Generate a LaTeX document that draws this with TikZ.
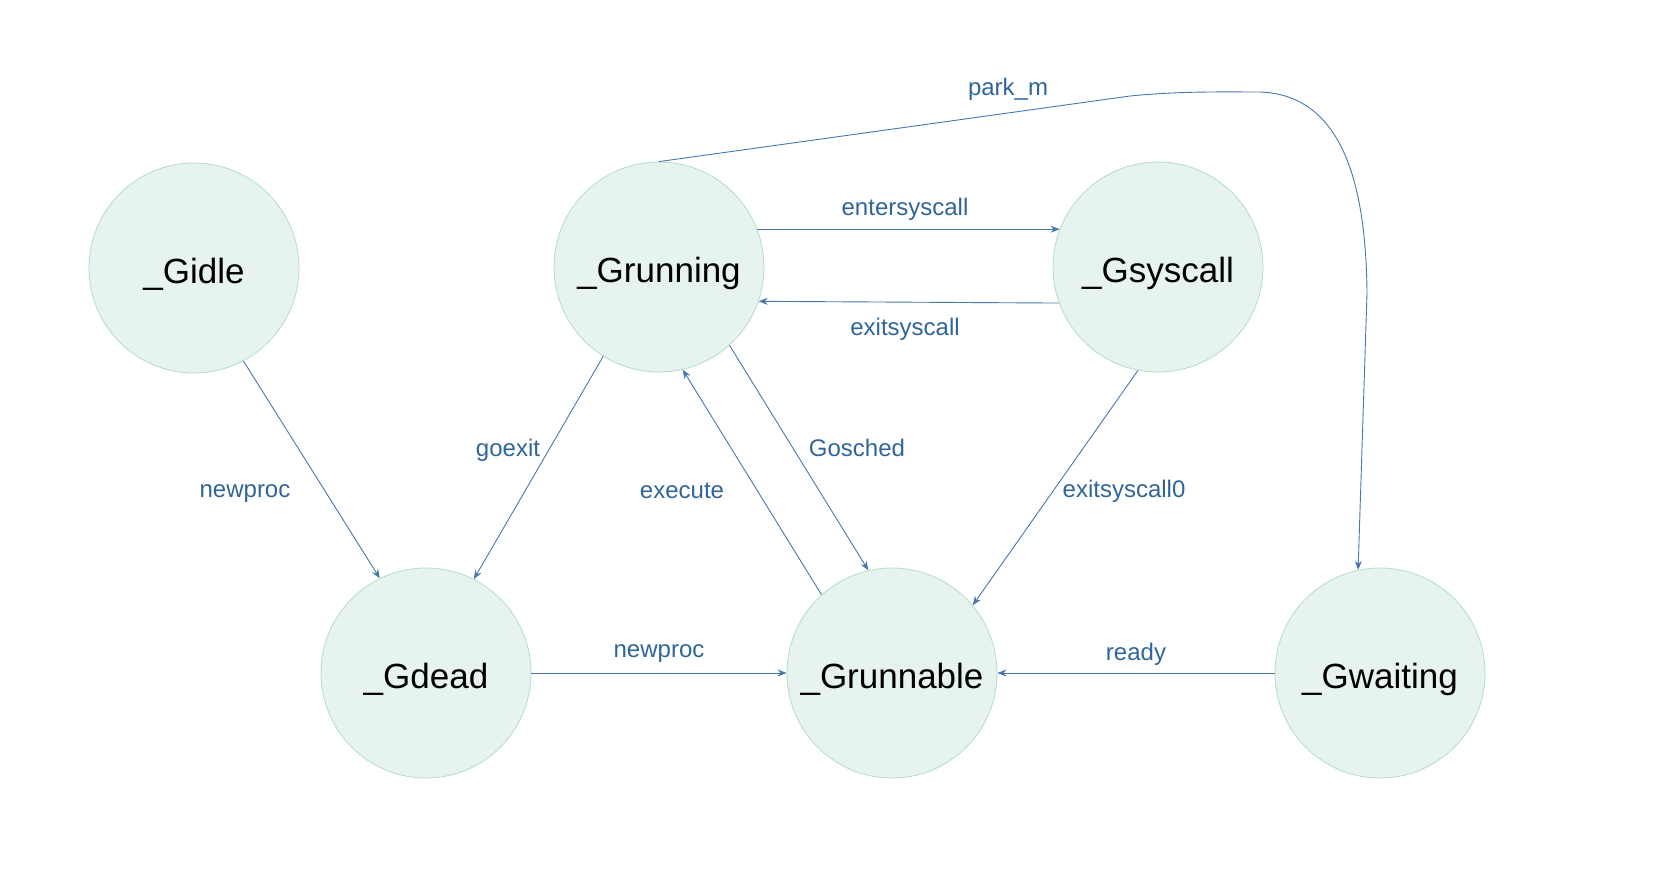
\documentclass[tikz,border=0pt]{standalone}
\usepackage{fontspec}
\setmainfont{Liberation Sans}
\usetikzlibrary{arrows.meta}
\definecolor{stfill}{HTML}{E7F3EE}
\definecolor{stdraw}{HTML}{B3DCCD}
\definecolor{edgec}{HTML}{4877AD}
\definecolor{labc}{HTML}{30659A}
\tikzset{
  state/.style={circle, draw=stdraw, fill=stfill, line width=0.8pt, minimum size=210pt, inner sep=0pt, font=\fontsize{35}{40}\selectfont, text=black},
  stxt/.style={font=\fontsize{35}{40}\selectfont, text=black, inner sep=0pt},
  edge/.style={draw=edgec, line width=0.9pt, -{Stealth[length=9pt,width=7pt]}},
  lab/.style={text=labc, font=\fontsize{24}{28}\selectfont, inner sep=0pt}
}
\begin{document}
\begin{tikzpicture}[x=1pt,y=-1pt]
\useasboundingbox (0,0) rectangle (1680,880);
\node[state] (idle) at (194,268) {};
\node[state] (run) at (659,267) {};
\node[state] (sys) at (1158,267) {};
\node[state] (dead) at (426,673) {};
\node[state] (rable) at (892,673) {};
\node[state] (wait) at (1380,673) {};
\node[stxt] (tidle) at (194,274) {\_Gidle};
\node[stxt] (trun) at (659,273) {\_Grunning};
\node[stxt] (tsys) at (1158,273) {\_Gsyscall};
\node[stxt] (tdead) at (426,679) {\_Gdead};
\node[stxt] (trable) at (892,679) {\_Grunnable};
\node[stxt] (twait) at (1380,679) {\_Gwaiting};

\draw[edge] (idle.-62) -- (dead.116);
\draw[edge] (run.238) -- (dead.63);
\draw[edge] (run.21) -- (sys.159);
\draw[edge] (sys.-160.5) -- (run.-19.5);
\draw[edge] (run.-48) -- (rable.103);
\draw[edge] (rable.132) -- (run.-77);
\draw[edge] (sys.-101) -- (rable.40);
\draw[edge] (dead.east) -- (rable.west);
\draw[edge] (wait.west) -- (rable.east);
\coordinate (p1) at (1130,96);
\coordinate (p2) at (1260,92);
\coordinate (p3) at (1367,293);
\draw[edge] (run.north) -- (p1) .. controls (1180,91) and (1225,92) .. (p2) .. controls (1345,95) and (1366,190) .. (p3) -- (wait.102);

\node[lab] (l1) at (245,494) {newproc};
\node[lab] (l2) at (508,450) {goexit};
\node[lab] (l3) at (905,209) {entersyscall};
\node[lab] (l4) at (905,329) {exitsyscall};
\node[lab] (l5) at (857,448) {Gosched};
\node[lab] (l6) at (682,491) {execute};
\node[lab] (l7) at (1124,491) {exitsyscall0};
\node[lab] (l8) at (659,654) {newproc};
\node[lab] (l9) at (1136,654) {ready};
\node[lab] (l10) at (1008,89) {park\_m};
\end{tikzpicture}
\end{document}
